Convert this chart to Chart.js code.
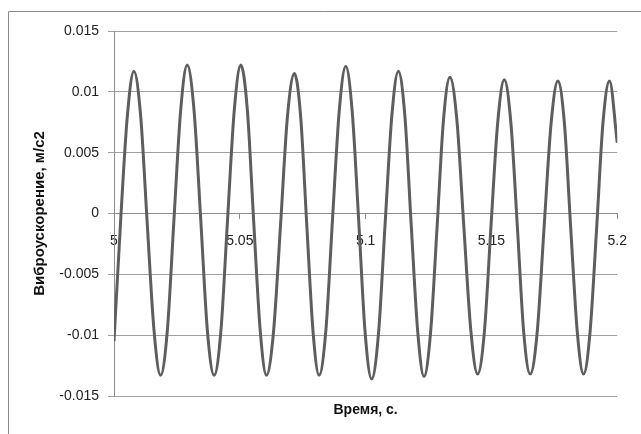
<!DOCTYPE html>
<html>
<head>
<meta charset="utf-8">
<script src="https://cdn.jsdelivr.net/npm/chart.js@4/dist/chart.umd.min.js"></script>
<style>
    html, body { margin: 0; padding: 0; background: #fff; }
    #wrap { width: 641px; height: 434px; }
</style>
</head>
<body>
<div id="wrap"><canvas id="vib-chart" width="641" height="434"></canvas></div>
<script>
// Время, с.
const time = [
    5.0000, 5.0028, 5.0053, 5.0079, 5.0106, 5.0132, 5.0159, 5.0185, 5.0212, 5.0238,
    5.0265, 5.0291, 5.0318, 5.0345, 5.0371, 5.0398, 5.0425, 5.0451, 5.0478, 5.0504,
    5.0530, 5.0555, 5.0581, 5.0606, 5.0634, 5.0662, 5.0689, 5.0717, 5.0742, 5.0766,
    5.0791, 5.0815, 5.0842, 5.0868, 5.0895, 5.0921, 5.0947, 5.0973, 5.0998, 5.1024,
    5.1051, 5.1077, 5.1104, 5.1130, 5.1156, 5.1181, 5.1207, 5.1232, 5.1258, 5.1284,
    5.1309, 5.1335, 5.1363, 5.1390, 5.1418, 5.1445, 5.1472, 5.1498, 5.1525, 5.1551,
    5.1577, 5.1603, 5.1628, 5.1654, 5.1682, 5.1709, 5.1737, 5.1764, 5.1790, 5.1815,
    5.1841, 5.1866, 5.1892, 5.1918, 5.1943, 5.1969, 5.2000
];

// Виброускорение, м/с2
const accel = [
    -0.0105, 0.0000, 0.0080, 0.0117, 0.0080, -0.0008, -0.0096, -0.0133, -0.0096, -0.0006,
    0.0085, 0.0122, 0.0085, -0.0006, -0.0096, -0.0133, -0.0096, -0.0006, 0.0085, 0.0122,
    0.0085, -0.0006, -0.0096, -0.0133, -0.0097, -0.0009, 0.0079, 0.0115, 0.0079, -0.0009,
    -0.0097, -0.0133, -0.0096, -0.0006, 0.0084, 0.0121, 0.0083, -0.0008, -0.0098, -0.0136,
    -0.0099, -0.0010, 0.0080, 0.0117, 0.0080, -0.0009, -0.0097, -0.0134, -0.0098, -0.0011,
    0.0076, 0.0112, 0.0076, -0.0010, -0.0096, -0.0132, -0.0097, -0.0011, 0.0075, 0.0110,
    0.0075, -0.0011, -0.0097, -0.0132, -0.0097, -0.0012, 0.0074, 0.0109, 0.0074, -0.0012,
    -0.0097, -0.0132, -0.0097, -0.0012, 0.0074, 0.0109, 0.0058
];

const xTicks = [5, 5.05, 5.1, 5.15, 5.2];
const yTicks = [-0.015, -0.01, -0.005, 0, 0.005, 0.01, 0.015];

const xTitle = 'Время, с.';
const yTitle = 'Виброускорение, м/с2';

const fontFamily = '"Liberation Sans", Arial, sans-serif';
const gridColor = '#a0a0a0';
const axisColor = '#8c8c8c';

// outer frame of the chart object (cut off at right and bottom)
const framePlugin = {
    id: 'frame',
    beforeDraw(chart) {
        const ctx = chart.ctx;
        ctx.save();
        ctx.fillStyle = '#fff';
        ctx.fillRect(0, 0, chart.width, chart.height);
        ctx.strokeStyle = '#8a8a8a';
        ctx.lineWidth = 1;
        ctx.beginPath();
        ctx.moveTo(8.5, chart.height);
        ctx.lineTo(8.5, 11.5);
        ctx.lineTo(chart.width, 11.5);
        ctx.stroke();
        ctx.restore();
    }
};

// x axis sits on y = 0, so its title is placed under the plot area
const xTitlePlugin = {
    id: 'xTitle',
    afterDraw(chart) {
        const ctx = chart.ctx;
        const area = chart.chartArea;
        ctx.save();
        ctx.font = 'bold 14px ' + fontFamily;
        ctx.fillStyle = '#111';
        ctx.textAlign = 'center';
        ctx.textBaseline = 'middle';
        ctx.fillText(xTitle, (area.left + area.right) / 2, 410);
        ctx.restore();
    }
};

const fmt = (v, digits) => String(Number(v.toFixed(digits)));

new Chart(document.getElementById('vib-chart'), {
    type: 'line',
    data: {
        datasets: [{
            label: yTitle,
            data: time.map((t, i) => ({ x: t, y: accel[i] })),
            borderColor: '#5e5e5e',
            borderWidth: 3,
            pointRadius: 0,
            fill: false,
            cubicInterpolationMode: 'monotone'
        }]
    },
    options: {
        responsive: false,
        animation: false,
        devicePixelRatio: 1,
        layout: { padding: { left: 0, top: 31, right: 19, bottom: 38 } },
        plugins: {
            legend: { display: false },
            tooltip: { enabled: false }
        },
        scales: {
            x: {
                type: 'linear',
                position: { y: 0 },
                min: 5,
                max: 5.2,
                afterBuildTicks: scale => { scale.ticks = xTicks.map(v => ({ value: v })); },
                grid: { drawOnChartArea: false, color: axisColor, tickLength: 5 },
                border: { display: true, color: axisColor },
                ticks: {
                    color: '#222',
                    font: { family: fontFamily, size: 14 },
                    padding: 14,
                    maxRotation: 0,
                    callback: v => fmt(v, 2)
                }
            },
            y: {
                type: 'linear',
                min: -0.015,
                max: 0.015,
                afterBuildTicks: scale => { scale.ticks = yTicks.map(v => ({ value: v })); },
                afterFit: scale => { scale.width = 114; },
                grid: { color: gridColor, tickLength: 6 },
                border: { display: true, color: axisColor },
                ticks: {
                    color: '#222',
                    font: { family: fontFamily, size: 14 },
                    padding: 9,
                    callback: v => fmt(v, 3)
                },
                title: {
                    display: true,
                    text: yTitle,
                    color: '#111',
                    font: { family: fontFamily, size: 15, weight: 'bold' },
                    padding: { top: 31, bottom: 0 }
                }
            }
        }
    },
    plugins: [framePlugin, xTitlePlugin]
});
</script>
</body>
</html>
